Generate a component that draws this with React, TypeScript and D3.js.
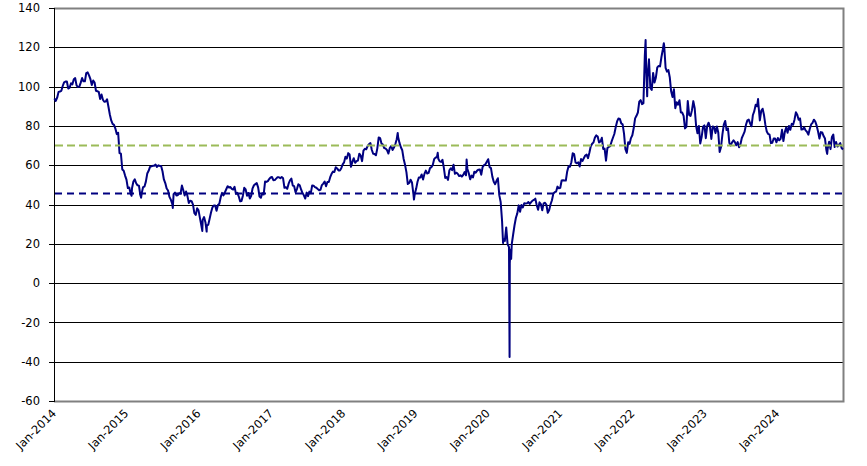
import * as d3 from "d3";
import { useEffect, useRef } from "react";

// weekly (Friday) closes, one array per year
const wti2014 = [93.96, 92.72, 94.37, 97.32, 97.49, 97.84, 100.3, 102.2, 102.59, 102.58, 99.0, 99.46, 101.67, 101.14, 103.74, 104.3, 100.6, 99.76, 99.99, 102.02, 104.35, 102.71, 102.66, 106.91, 107.26, 105.74, 103.77, 100.83, 103.13, 102.09, 97.88, 97.65, 97.35, 93.65, 95.96, 93.29, 92.27, 92.41, 93.54, 89.74, 85.82, 82.75, 81.01, 80.54, 78.65, 75.82, 76.51, 66.15, 65.84, 57.81, 57.13, 54.73];
const wti2015 = [52.69, 48.36, 48.69, 45.59, 48.24, 51.69, 52.78, 50.81, 49.76, 49.61, 44.84, 45.72, 48.87, 49.14, 51.64, 55.74, 57.15, 59.15, 59.39, 59.69, 59.72, 60.3, 59.13, 59.96, 59.61, 59.63, 56.93, 52.74, 50.89, 48.14, 47.12, 43.87, 42.5, 40.45, 45.22, 46.05, 44.63, 44.68, 45.7, 45.54, 49.63, 47.26, 44.6, 46.59, 44.29, 40.74, 41.9, 41.71, 39.97, 35.62, 34.73, 38.1];
const wti2016 = [37.04, 33.16, 29.42, 32.19, 33.62, 30.89, 29.44, 29.64, 32.78, 35.92, 38.5, 39.44, 39.46, 36.79, 39.72, 40.36, 43.73, 45.92, 44.66, 46.21, 47.75, 49.33, 48.62, 48.88, 47.98, 47.64, 48.99, 45.41, 45.95, 44.19, 41.6, 41.8, 44.49, 48.52, 47.64, 44.44, 45.88, 43.03, 44.48, 48.24, 49.81, 50.35, 50.85, 48.7, 44.07, 43.41, 45.69, 45.06, 51.68, 51.5, 51.9, 53.02, 53.72];
const wti2017 = [53.99, 52.37, 52.42, 53.17, 53.83, 53.86, 53.4, 53.99, 53.33, 48.49, 48.78, 47.97, 50.6, 52.24, 53.18, 49.62, 49.33, 46.22, 47.84, 50.33, 49.8, 47.66, 45.83, 44.68, 43.01, 46.04, 44.23, 46.54, 45.77, 49.71, 49.58, 48.82, 48.51, 47.87, 47.29, 47.48, 49.89, 50.66, 51.67, 49.29, 51.45, 51.47, 53.9, 55.64, 56.74, 56.55, 58.95, 58.36, 57.36, 57.3, 58.47, 60.42];
const wti2018 = [61.44, 64.3, 63.37, 66.14, 65.45, 59.2, 61.68, 63.55, 61.25, 62.04, 62.34, 65.88, 64.94, 62.06, 67.39, 68.38, 68.1, 69.72, 70.7, 71.28, 67.88, 65.81, 65.74, 65.06, 68.58, 74.15, 73.8, 71.01, 70.46, 68.69, 68.49, 67.63, 65.91, 68.72, 69.8, 67.75, 68.99, 70.78, 73.25, 74.34, 71.34, 69.12, 67.59, 63.14, 60.19, 56.46, 50.42, 50.93, 52.61, 51.2, 45.59, 45.33];
const wti2019 = [47.96, 51.59, 53.8, 53.69, 55.26, 52.72, 55.59, 57.26, 55.8, 56.07, 58.52, 59.04, 60.14, 63.08, 63.89, 64.07, 63.3, 61.94, 61.66, 62.76, 58.63, 53.5, 53.99, 52.51, 57.43, 58.47, 57.51, 60.21, 55.63, 56.2, 55.66, 54.5, 54.87, 54.17, 55.1, 56.52, 54.85, 58.09, 55.91, 52.81, 54.7, 53.78, 56.66, 56.2, 57.24, 57.72, 57.77, 55.17, 59.2, 60.07, 60.44, 61.72];
const wti2020 = [63.05, 59.04, 58.54, 54.19, 51.56, 50.32, 52.05, 53.38, 44.76, 41.28, 31.73, 22.43, 21.51, 28.34, 19.87, 18.27, 16.94, 19.78, 24.74, 29.43, 33.25, 35.49, 39.55, 36.26, 39.75, 38.49, 40.65, 40.55, 40.59, 41.29, 40.27, 41.22, 42.01, 42.34, 42.97, 39.77, 37.33, 41.11, 40.25, 37.05, 40.6, 40.88, 39.85, 35.79, 37.14, 40.13, 42.15, 45.53, 46.26, 46.57, 49.1, 48.23];
const wti2021 = [48.52, 52.24, 52.36, 52.27, 52.2, 56.85, 59.47, 59.24, 61.5, 66.09, 65.61, 61.42, 60.97, 61.45, 59.32, 63.13, 62.14, 63.58, 64.9, 65.37, 63.58, 66.32, 69.62, 70.91, 71.64, 74.05, 75.16, 74.56, 71.56, 72.07, 73.95, 68.28, 68.44, 62.32, 68.74, 69.29, 69.72, 71.97, 73.98, 75.88, 79.35, 82.28, 83.76, 83.57, 81.27, 80.79, 76.1, 68.15, 66.26, 71.67, 70.86, 73.79, 75.21];
const wti2022 = [78.9, 83.82, 85.14, 86.82, 92.31, 93.1, 91.07, 91.59, 115.68, 109.33, 104.7, 113.9, 99.27, 98.26, 106.95, 102.07, 104.69, 109.77, 110.49, 110.28, 115.07, 118.87, 120.67, 109.56, 107.62, 108.43, 104.79, 97.59, 94.7, 98.62, 89.01, 92.09, 90.77, 93.06, 86.87, 86.79, 85.11, 78.74, 79.49, 92.64, 85.61, 85.05, 87.9, 92.61, 88.96, 80.08, 76.28, 79.98, 71.02, 74.29, 79.56, 80.26];
const wti2023 = [73.77, 79.86, 81.64, 79.68, 73.39, 79.72, 79.34, 76.32, 79.68, 76.68, 66.74, 69.26, 75.67, 80.7, 82.52, 77.87, 78.78, 71.34, 70.04, 71.69, 72.67, 71.74, 70.17, 71.78, 69.16, 70.64, 73.86, 75.42, 77.07, 80.58, 82.82, 83.19, 81.25, 79.83, 85.55, 87.51, 90.77, 90.03, 90.79, 82.79, 87.69, 88.75, 85.54, 80.51, 77.17, 75.89, 75.54, 71.23, 71.43, 73.56, 73.56, 71.65];
const wti2024 = [73.81, 72.68, 73.41, 78.01, 72.28, 76.84, 79.19, 76.49, 79.97, 78.01, 81.04, 80.63, 83.17, 86.91, 85.66, 83.14, 83.85, 78.11, 78.26, 79.23, 77.72, 76.99, 75.53, 78.45, 80.73, 81.54, 83.16, 82.21, 80.13, 77.16, 73.52, 76.84, 76.65, 74.83, 73.55, 67.67, 68.65, 71.92, 68.18, 74.38, 75.56, 69.22, 71.78, 69.49, 70.38, 71.24, 68.72, 68.0];

const years = [2014, 2015, 2016, 2017, 2018, 2019, 2020, 2021, 2022, 2023, 2024];
const weeklyByYear = [wti2014, wti2015, wti2016, wti2017, wti2018, wti2019, wti2020, wti2021, wti2022, wti2023, wti2024];

// single days that the weekly closes miss
const extremeDates = ["2015-01-28", "2015-03-17", "2015-08-24", "2016-01-20", "2016-02-11", "2018-10-03", "2018-12-24", "2019-04-23", "2019-09-16", "2020-03-18", "2020-04-20", "2020-04-21", "2020-04-28", "2022-03-08", "2022-03-16", "2022-06-08", "2023-09-27", "2024-09-10"];
const extremeValues = [44.45, 43.46, 38.24, 26.55, 26.21, 76.41, 42.53, 66.3, 62.9, 20.37, -37.63, 10.01, 12.34, 123.7, 95.04, 122.11, 93.68, 65.75];

const yTicks = [-60, -40, -20, 0, 20, 40, 60, 80, 100, 120, 140];
const lowerRef = 45.6;
const upperRef = 70;

interface Pt {
  date: Date;
  value: number;
}

const App = () => {
  const svgRef = useRef<SVGSVGElement | null>(null);

  useEffect(() => {
    const width = 867;
    const height = 466;
    const margin = { top: 8, right: 24, bottom: 65, left: 54 };
    const svg = d3.select(svgRef.current);
    svg.selectAll("*").remove();

    const parse = d3.timeParse("%Y-%m-%d");
    const points: Pt[] = [];
    years.forEach((yr, k) => {
      const fridays = d3.timeFriday.range(new Date(yr, 0, 1), new Date(yr + 1, 0, 1));
      weeklyByYear[k].forEach((v, i) => points.push({ date: fridays[i], value: v }));
    });
    extremeDates.forEach((d, i) => points.push({ date: parse(d)!, value: extremeValues[i] }));
    points.sort((a, b) => +a.date - +b.date);

    const x0 = margin.left;
    const x1 = width - margin.right;
    const y0 = margin.top;
    const y1 = height - margin.bottom;

    const xScale = d3
      .scaleTime()
      .domain([new Date(2014, 0, 1), new Date(2024, 10, 29)])
      .range([x0, x1]);

    const yScale = d3.scaleLinear().domain([-60, 140]).range([y1, y0]);
    const crisp = (v: number) => Math.round(v) + 0.5;

    // gridlines
    svg
      .append("g")
      .selectAll("line")
      .data(yTicks.filter((t) => t > -60 && t < 140))
      .join("line")
      .attr("x1", x0)
      .attr("x2", x1)
      .attr("y1", (d) => crisp(yScale(d)))
      .attr("y2", (d) => crisp(yScale(d)))
      .attr("stroke", "#000")
      .attr("stroke-width", 1);

    // plot frame (gray top/right/bottom)
    svg
      .append("path")
      .attr("d", `M${x0},${crisp(y0)}H${crisp(x1)}V${crisp(y1)}H${x0}`)
      .attr("fill", "none")
      .attr("stroke", "#808080")
      .attr("stroke-width", 2);

    // left axis
    const yAxis = svg.append("g");
    yAxis
      .append("line")
      .attr("x1", crisp(x0))
      .attr("x2", crisp(x0))
      .attr("y1", y0)
      .attr("y2", y1 + 1)
      .attr("stroke", "#000");
    yAxis
      .selectAll(".tick")
      .data(yTicks)
      .join("line")
      .attr("x1", x0 - 5)
      .attr("x2", x0)
      .attr("y1", (d) => crisp(yScale(d)))
      .attr("y2", (d) => crisp(yScale(d)))
      .attr("stroke", "#000");
    yAxis
      .selectAll("text")
      .data(yTicks)
      .join("text")
      .attr("x", 40)
      .attr("y", (d) => yScale(d))
      .attr("dy", "0.36em")
      .attr("text-anchor", "end")
      .style("font-family", "'DejaVu Sans', Verdana, sans-serif")
      .style("font-size", "11.5px")
      .text((d) => String(d));

    // x labels
    const labelYears = years.map((yr) => new Date(yr, 0, 1));
    const fmt = d3.timeFormat("%b-%Y");
    svg
      .append("g")
      .selectAll("text")
      .data(labelYears)
      .join("text")
      .attr("transform", (d) => `translate(${xScale(d) + 3},${y1 + 13}) rotate(-45)`)
      .attr("text-anchor", "end")
      .style("font-family", "'DejaVu Sans', Verdana, sans-serif")
      .style("font-size", "11.5px")
      .text((d) => fmt(d));

    // price line
    const line = d3
      .line<Pt>()
      .x((d) => xScale(d.date))
      .y((d) => yScale(d.value));

    svg
      .append("path")
      .datum(points)
      .attr("d", line)
      .attr("fill", "none")
      .attr("stroke", "#000080")
      .attr("stroke-width", 2)
      .attr("stroke-linejoin", "round");

    // reference levels
    svg
      .append("line")
      .attr("x1", x0 + 1)
      .attr("x2", x1)
      .attr("y1", yScale(upperRef))
      .attr("y2", yScale(upperRef))
      .attr("stroke", "#9bbb59")
      .attr("stroke-width", 2)
      .attr("stroke-dasharray", "8,4");

    svg
      .append("line")
      .attr("x1", x0 + 1)
      .attr("x2", x1)
      .attr("y1", yScale(lowerRef))
      .attr("y2", yScale(lowerRef))
      .attr("stroke", "#000080")
      .attr("stroke-width", 2)
      .attr("stroke-dasharray", "7,5");
  }, []);

  return (
    <svg
      ref={svgRef}
      width={867}
      height={466}
      style={{ position: "absolute", left: 0, top: 0, background: "#fff" }}
    ></svg>
  );
};

export default App;
